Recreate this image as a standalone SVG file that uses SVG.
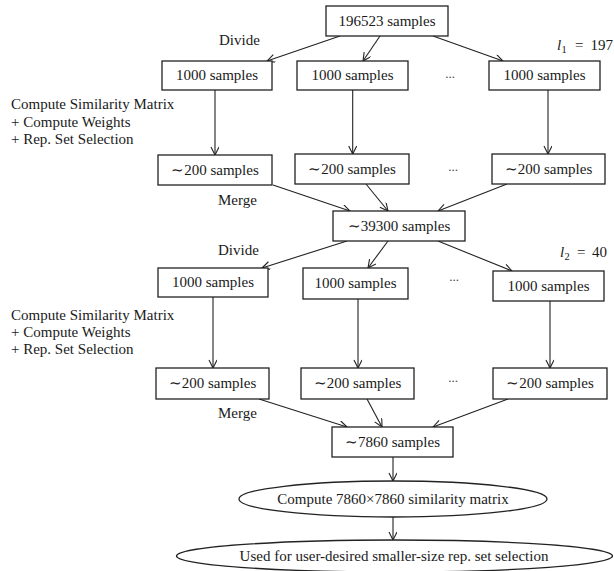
<svg xmlns="http://www.w3.org/2000/svg" width="614" height="571" viewBox="0 0 614 571">
<style>
  text { font-family: "Liberation Serif", "Times New Roman", serif; font-size: 15px; fill: #1a1a1a; }
  .c { text-anchor: middle; }
  .box { fill: #fff; stroke: #222; stroke-width: 1.3; }
  .conn line { stroke: #222; stroke-width: 1.1; marker-end: url(#ah); }
  .dots { font-size: 13px; fill: #444; text-anchor: middle; }
  .it { font-style: italic; }
</style>
<defs>
  <marker id="ah" markerWidth="10" markerHeight="10" refX="9" refY="4" orient="auto" markerUnits="userSpaceOnUse">
    <path d="M1,0 L9,4 L1,8" fill="none" stroke="#222" stroke-width="1.1"/>
  </marker>
</defs>

<g id="connectors" class="conn">
  <line x1="340" y1="36" x2="267" y2="61"/>
  <line x1="380" y1="36" x2="363" y2="61"/>
  <line x1="433" y1="36" x2="503" y2="61"/>
  <line x1="215" y1="90" x2="215" y2="155"/>
  <line x1="352.7" y1="90" x2="352.7" y2="154"/>
  <line x1="548" y1="90" x2="548" y2="154"/>
  <line x1="273" y1="185" x2="350" y2="211"/>
  <line x1="366" y1="184" x2="388" y2="211"/>
  <line x1="507" y1="184" x2="438" y2="211"/>
  <line x1="347" y1="241" x2="262" y2="268"/>
  <line x1="388" y1="241" x2="368" y2="268"/>
  <line x1="438" y1="241" x2="512" y2="271"/>
  <line x1="213" y1="297" x2="213" y2="368"/>
  <line x1="358" y1="299" x2="358" y2="368"/>
  <line x1="550" y1="301" x2="550" y2="368"/>
  <line x1="259" y1="399" x2="347" y2="427"/>
  <line x1="367" y1="399" x2="382" y2="427"/>
  <line x1="508" y1="399" x2="433" y2="427"/>
  <line x1="393" y1="457" x2="393" y2="481"/>
  <line x1="393" y1="517" x2="393" y2="540"/>
</g>

<g id="n-top"><rect class="box" x="326" y="6" width="122" height="30"/><text class="c" x="387" y="26">196523 samples</text></g>

<g id="n-r1a"><rect class="box" x="162" y="61" width="110" height="29"/><text class="c" x="217" y="80">1000 samples</text></g>
<g id="n-r1b"><rect class="box" x="297" y="61" width="111" height="29"/><text class="c" x="352.5" y="80">1000 samples</text></g>
<g id="n-r1c"><rect class="box" x="489" y="61" width="111" height="29"/><text class="c" x="544.5" y="80">1000 samples</text></g>

<g id="n-r2a"><rect class="box" x="158" y="155" width="114" height="30"/><text class="c" x="215" y="175">∼200 samples</text></g>
<g id="n-r2b"><rect class="box" x="295" y="154" width="114" height="30"/><text class="c" x="352" y="174">∼200 samples</text></g>
<g id="n-r2c"><rect class="box" x="492" y="154" width="113" height="30"/><text class="c" x="548.5" y="174">∼200 samples</text></g>

<g id="n-merge1"><rect class="box" x="333" y="211" width="132" height="30"/><text class="c" x="399" y="231">∼39300 samples</text></g>

<g id="n-r3a"><rect class="box" x="158" y="268" width="110" height="29"/><text class="c" x="213" y="287">1000 samples</text></g>
<g id="n-r3b"><rect class="box" x="303" y="268" width="105" height="31"/><text class="c" x="355.5" y="288">1000 samples</text></g>
<g id="n-r3c"><rect class="box" x="493" y="271" width="111" height="30"/><text class="c" x="548.5" y="291">1000 samples</text></g>

<g id="n-r4a"><rect class="box" x="156" y="368" width="113" height="31"/><text class="c" x="212.5" y="388">∼200 samples</text></g>
<g id="n-r4b"><rect class="box" x="301" y="368" width="113" height="31"/><text class="c" x="357.5" y="388">∼200 samples</text></g>
<g id="n-r4c"><rect class="box" x="493" y="368" width="114" height="31"/><text class="c" x="550" y="388">∼200 samples</text></g>

<g id="n-merge2"><rect class="box" x="332" y="427" width="121" height="30"/><text class="c" x="392.5" y="447">∼7860 samples</text></g>

<g id="n-sim"><ellipse class="box" cx="393" cy="499" rx="154" ry="18"/><text class="c" x="393" y="504">Compute 7860×7860 similarity matrix</text></g>
<g id="n-use"><ellipse class="box" cx="394.5" cy="556" rx="218" ry="16"/><text class="c" x="394" y="561">Used for user-desired smaller-size rep. set selection</text></g>

<g id="labels">
  <text x="219" y="45">Divide</text>
  <text x="218" y="205">Merge</text>
  <text x="218" y="255">Divide</text>
  <text x="218" y="418">Merge</text>
  <text x="11" y="109">Compute Similarity Matrix</text>
  <text x="11" y="126.7">+ Compute Weights</text>
  <text x="11" y="144.3">+ Rep. Set Selection</text>
  <text x="11" y="320">Compute Similarity Matrix</text>
  <text x="11" y="337">+ Compute Weights</text>
  <text x="11" y="354">+ Rep. Set Selection</text>
  <text x="557" y="50"><tspan class="it">l</tspan><tspan x="561.5" y="53" font-size="10.5">1</tspan><tspan x="575" y="50">=</tspan><tspan x="613" y="50" text-anchor="end">197</tspan></text>
  <text x="560" y="257"><tspan class="it">l</tspan><tspan x="564.5" y="260" font-size="10.5">2</tspan><tspan x="577" y="257">=</tspan><tspan x="607" y="257" text-anchor="end">40</tspan></text>
  <text class="dots" x="450" y="78">...</text>
  <text class="dots" x="453" y="171">...</text>
  <text class="dots" x="454" y="281">...</text>
  <text class="dots" x="453" y="382">...</text>
</g>
</svg>
